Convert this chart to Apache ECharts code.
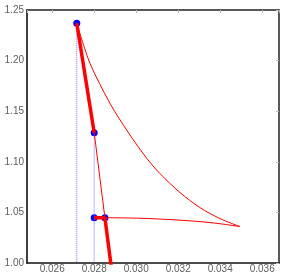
<!DOCTYPE html>
<html>
<head>
<meta charset="utf-8">
<script src="https://cdn.jsdelivr.net/npm/echarts@6/dist/echarts.min.js"></script>
<style>
html,body{margin:0;padding:0;background:#fff;}
#c{width:282px;height:276px;}
</style>
</head>
<body>
<div id="c"></div>
<script>
// State points (blue markers)
const stateX = [0.02717, 0.02800, 0.02800, 0.02851];
const stateY = [1.2369, 1.1288, 1.0448, 1.0448];
// Upper thin curve
const curve1X = [0.02717, 0.02780, 0.028752, 0.029610, 0.03050, 0.031133, 0.032086, 0.033038, 0.03399, 0.034943];
const curve1Y = [1.2369, 1.1973, 1.1578, 1.1294, 1.1035, 1.0883, 1.0696, 1.0547, 1.0439, 1.0360];
// Lower thin curve
const curve2X = [0.02851, 0.030229, 0.031610, 0.033038, 0.03399, 0.034943];
const curve2Y = [1.0448, 1.0442, 1.0429, 1.0409, 1.0388, 1.0360];
// Thick tail below last state
const tailX = [0.02851, 0.02885];
const tailY = [1.0448, 0.99];
// Axis
const xMin = 0.0248, xMax = 0.0368, xStep = 0.002;
const yMin = 1.00, yMax = 1.25, yStep = 0.05;

const pairs = (xs, ys) => xs.map((x, i) => [x, ys[i]]);
const RED = '#ff0000', BLUE = '#0000ff';
const font = 'Liberation Sans, Arial, sans-serif';

const chart = echarts.init(document.getElementById('c'), null, {renderer: 'canvas'});
const xLabel = v => {
  const r = v / xStep;
  return Math.abs(r - Math.round(r)) < 1e-6 ? v.toFixed(3) : '';
};
chart.setOption({
  animation: false,
  backgroundColor: '#fff',
  grid: {left: 27, top: 10, right: 3, bottom: 13, containLabel: false},
  xAxis: [
    {type: 'value', min: xMin, max: xMax, splitNumber: 6, position: 'bottom',
     axisLine: {show: true, lineStyle: {color: '#111', width: 1.6}},
     axisTick: {show: false}, splitLine: {show: false},
     axisLabel: {formatter: xLabel, color: '#5e5e5e', fontSize: 10, fontFamily: font, margin: 1,
                 showMinLabel: false, showMaxLabel: true}},
    {type: 'value', min: xMin, max: xMax, splitNumber: 6, position: 'top',
     axisLine: {show: true, lineStyle: {color: '#222', width: 1.5}},
     axisTick: {show: true, inside: true, length: 3, lineStyle: {color: '#bbb'}},
     splitLine: {show: false}, axisLabel: {show: false}}
  ],
  yAxis: [
    {type: 'value', min: yMin, max: yMax, interval: yStep, position: 'left',
     axisLine: {show: true, lineStyle: {color: '#111', width: 1.6}},
     axisTick: {show: false}, splitLine: {show: false},
     axisLabel: {formatter: v => v.toFixed(2), color: '#5e5e5e', fontSize: 10, fontFamily: font, margin: 3}},
    {type: 'value', min: yMin, max: yMax, interval: yStep, position: 'right',
     axisLine: {show: true, lineStyle: {color: '#222', width: 1.5}},
     axisTick: {show: true, inside: true, length: 3, lineStyle: {color: '#bbb'}},
     splitLine: {show: false}, axisLabel: {show: false}}
  ],
  series: [
    {type: 'line', data: [[stateX[0], stateY[0]], [stateX[0], yMin]], symbol: 'none',
     lineStyle: {color: '#6f6fff', width: 1, type: [1, 1]}},
    {type: 'line', data: [[stateX[1], stateY[1]], [stateX[1], yMin]], symbol: 'none',
     lineStyle: {color: '#6f6fff', width: 1, type: [1, 1]}},
    {type: 'line', data: pairs(curve1X, curve1Y), symbol: 'none', smooth: 0.3,
     lineStyle: {color: RED, width: 1}},
    {type: 'line', data: pairs(curve2X, curve2Y), symbol: 'none', smooth: 0.3,
     lineStyle: {color: RED, width: 1}},
    {type: 'line', data: [[stateX[1], stateY[1]], [stateX[3], stateY[3]]], symbol: 'none',
     lineStyle: {color: RED, width: 1}},
    {type: 'line', data: [[stateX[0], stateY[0]], [stateX[1], stateY[1]]], symbol: 'none',
     lineStyle: {color: RED, width: 3.5}},
    {type: 'line', data: [[stateX[2], stateY[2]], [stateX[3], stateY[3]]], symbol: 'none',
     lineStyle: {color: RED, width: 3.5}},
    {type: 'line', data: pairs(tailX, tailY), symbol: 'none', clip: true,
     lineStyle: {color: RED, width: 3.5}},
    {type: 'scatter', data: pairs(stateX, stateY), symbol: 'circle', symbolSize: 7,
     itemStyle: {color: BLUE, opacity: 1}}
  ]
});
</script>
</body>
</html>
